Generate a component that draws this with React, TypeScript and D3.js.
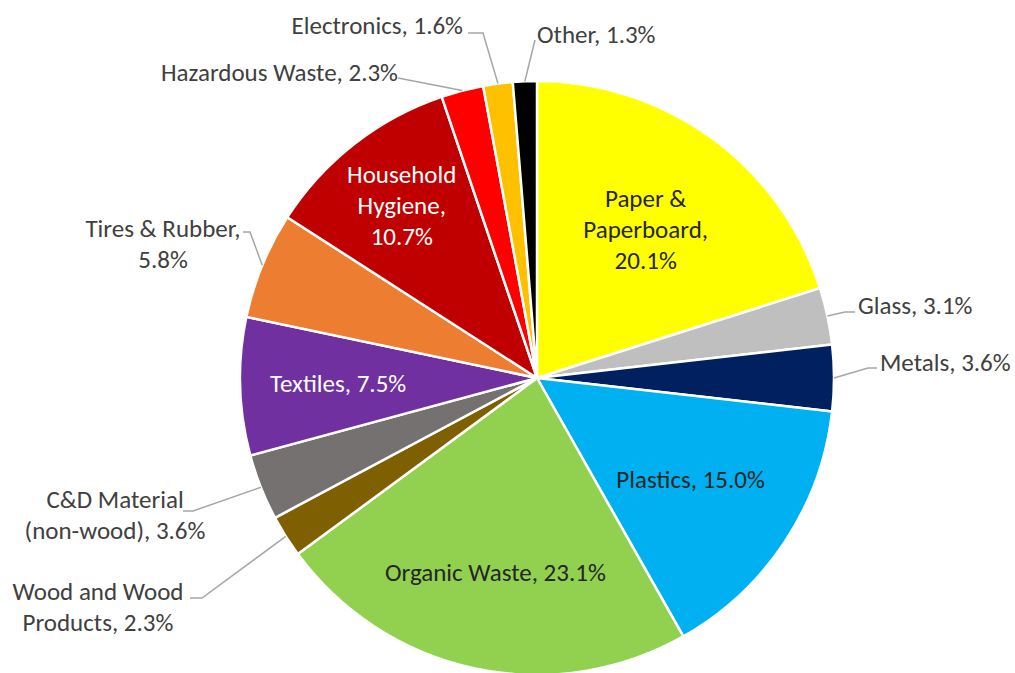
import React from 'react';
import * as d3 from 'd3';

const categories = [
  'Paper & Paperboard', 'Glass', 'Metals', 'Plastics', 'Organic Waste',
  'Wood and Wood Products', 'C&D Material (non-wood)', 'Textiles',
  'Tires & Rubber', 'Household Hygiene', 'Hazardous Waste', 'Electronics', 'Other',
];
const values = [20.1, 3.1, 3.6, 15.0, 23.1, 2.3, 3.6, 7.5, 5.8, 10.7, 2.3, 1.6, 1.3];
const colors = [
  '#FFFF00', '#BFBFBF', '#002060', '#00B0F0', '#92D050', '#7F6000', '#767171',
  '#7030A0', '#ED7D31', '#C00000', '#FF0000', '#FFC000', '#000000',
];
// words per line for each label
const wraps = [[2, 1, 1], [3], [2], [2], [3], [3, 2], [2, 2], [2], [3, 1], [1, 1, 1], [3], [2], [2]];

type Layout =
  | { kind: 'in'; r: number; fill: string }
  | { kind: 'out'; x: number; y: number; anchor: 'start' | 'middle' | 'end'; path: [number, number][] };

const layout: Layout[] = [
  { kind: 'in', r: 0.62, fill: '#262626' },
  { kind: 'out', x: 858, y: 305, anchor: 'start', path: [[845, 312], [855, 312]] },
  { kind: 'out', x: 880, y: 362, anchor: 'start', path: [[868, 368], [877, 368]] },
  { kind: 'in', r: 0.62, fill: '#262626' },
  { kind: 'in', r: 0.67, fill: '#262626' },
  { kind: 'out', x: 98, y: 607, anchor: 'middle', path: [[202, 598], [190, 598]] },
  { kind: 'out', x: 115, y: 515, anchor: 'middle', path: [[193, 511], [183, 511]] },
  { kind: 'in', r: 0.67, fill: '#FFFFFF' },
  { kind: 'out', x: 163, y: 244, anchor: 'middle', path: [[250, 232], [243, 232]] },
  { kind: 'in', r: 0.74, fill: '#FFFFFF' },
  { kind: 'out', x: 398, y: 72, anchor: 'end', path: [[398, 78]] },
  { kind: 'out', x: 463, y: 25, anchor: 'end', path: [[483, 33], [468, 33]] },
  { kind: 'out', x: 537, y: 34, anchor: 'start', path: [[535, 40]] },
];

const W = 1015, H = 673;
const CX = 537, CY = 378, R = 297;
const FONT = 'Calibri, Carlito, Lato, sans-serif';
const FS = 25;
const LH = 31;

function labelLines(i: number): string[] {
  const words = `${categories[i]}, ${values[i].toFixed(1)}%`.split(' ');
  const out: string[] = [];
  let k = 0;
  for (const n of wraps[i]) {
    out.push(words.slice(k, k + n).join(' '));
    k += n;
  }
  return out;
}

export default function App() {
  const pie = d3.pie<number>().sort(null).value((d) => d)(values);
  const arc = d3.arc<d3.PieArcDatum<number>>().innerRadius(0).outerRadius(R);
  const line = d3.line();

  return (
    <svg width={W} height={H} style={{ position: 'absolute', left: 0, top: 0, background: '#fff' }}>
      <g transform={`translate(${CX},${CY})`}>
        {pie.map((p, i) => (
          <path key={i} d={arc(p) || ''} fill={colors[i]} stroke="#fff" strokeWidth={2.5} strokeLinejoin="round" />
        ))}
      </g>
      {pie.map((p, i) => {
        const L = layout[i];
        const mid = (p.startAngle + p.endAngle) / 2;
        const lines = labelLines(i);
        if (L.kind === 'in') {
          const x = CX + Math.sin(mid) * R * L.r;
          const y = CY - Math.cos(mid) * R * L.r;
          const y0 = y - ((lines.length - 1) * LH) / 2;
          return (
            <text key={'l' + i} x={x} textAnchor="middle" fontFamily={FONT} fontSize={FS} fill={L.fill}>
              {lines.map((s, j) => (
                <tspan key={j} x={x} y={y0 + j * LH} dy="0.35em">{s}</tspan>
              ))}
            </text>
          );
        }
        const sx = CX + Math.sin(mid) * R;
        const sy = CY - Math.cos(mid) * R;
        const pts: [number, number][] = [[sx, sy], ...L.path];
        const y0 = L.y - ((lines.length - 1) * LH) / 2;
        return (
          <g key={'l' + i}>
            <path d={line(pts) || ''} fill="none" stroke="#A6A6A6" strokeWidth={1.5} />
            <text x={L.x} textAnchor={L.anchor} fontFamily={FONT} fontSize={FS} fill="#404040">
              {lines.map((s, j) => (
                <tspan key={j} x={L.x} y={y0 + j * LH} dy="0.35em">{s}</tspan>
              ))}
            </text>
          </g>
        );
      })}
    </svg>
  );
}
